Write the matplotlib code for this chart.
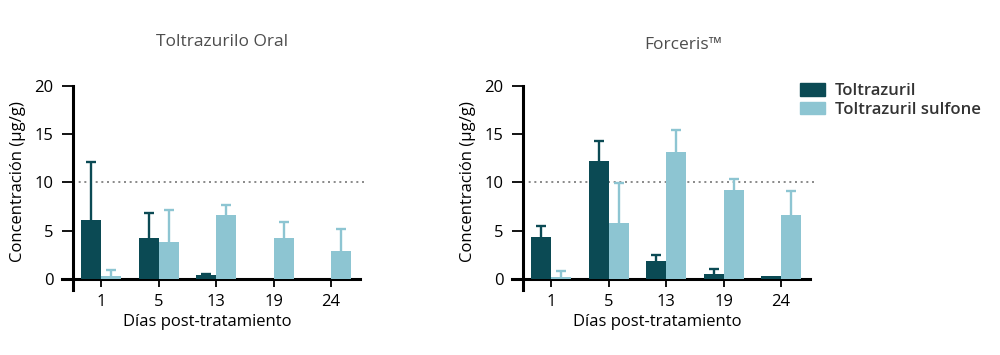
import numpy as np
import matplotlib
matplotlib.use("Agg")
import matplotlib.pyplot as plt
from matplotlib.patches import Patch

plt.rcParams['font.family'] = ['Open Sans', 'DejaVu Sans']

days = ["1", "5", "13", "19", "24"]
series_names = ["Toltrazuril", "Toltrazuril sulfone"]
panel_titles = ["Toltrazurilo Oral", "Forceris\u2122"]

# Toltrazurilo Oral
oral_tz = [6.1, 4.25, 0.38, 0.0, 0.0]
oral_tz_err = [6.07, 2.58, 0.14, 0.0, 0.0]
oral_tzs = [0.35, 3.83, 6.62, 4.24, 2.86]
oral_tzs_err = [0.55, 3.37, 1.07, 1.69, 2.28]

# Forceris
forc_tz = [4.3, 12.23, 1.82, 0.52, 0.34]
forc_tz_err = [1.2, 2.1, 0.65, 0.51, 0.0]
forc_tzs = [0.2, 5.77, 13.16, 9.24, 6.6]
forc_tzs_err = [0.6, 4.16, 2.27, 1.14, 2.47]

limit = 10

dark = '#0b4a54'
light = '#8dc5d2'

W, H = 1000, 355
fig = plt.figure(figsize=(W / 100, H / 100), dpi=100)

x = np.arange(len(days))
bw = 0.348
yaxis_x = -0.487


def upper_err(ax, xs, vals, errs, color):
    vals = np.asarray(vals)
    errs = np.asarray(errs)
    keep = errs > 0  # no whisker where there is no spread
    _, caps, _ = ax.errorbar(xs[keep], vals[keep], yerr=[np.zeros(keep.sum()), errs[keep]],
                             fmt='none', ecolor=color, elinewidth=1.7, capsize=3.6,
                             capthick=1.7, zorder=2.8)
    caps[0].set_visible(False)  # only the top cap


panels = [
    (62, oral_tz, oral_tz_err, oral_tzs, oral_tzs_err),
    (512, forc_tz, forc_tz_err, forc_tzs, forc_tzs_err),
]

for k, (left_px, a, ae, b, be) in enumerate(panels):
    ax = fig.add_axes([left_px / W, 65.4 / H, 306.5 / W, 203.6 / H])
    ax.set_xlim(-0.68, 4.65)
    ax.set_ylim(-1.1, 20)

    ax.plot([yaxis_x, 4.62], [limit, limit], ls=(0, (1.2, 2.2)), color='#777777', lw=1.2, zorder=1)

    ax.bar(x - bw / 2, a, bw, color=dark, zorder=3)
    ax.bar(x + bw / 2, b, bw, color=light, zorder=3)
    upper_err(ax, x - bw / 2, a, ae, dark)
    upper_err(ax, x + bw / 2, b, be, light)

    for s in ['top', 'right']:
        ax.spines[s].set_visible(False)
    ax.spines['left'].set_position(('data', yaxis_x))
    ax.spines['left'].set_bounds(-1.1, 20)
    ax.spines['bottom'].set_position(('data', 0))
    ax.spines['bottom'].set_bounds(-0.68, 4.5)
    ax.spines['left'].set_linewidth(2.2)
    ax.spines['bottom'].set_linewidth(2.2)

    ax.set_yticks([0, 5, 10, 15, 20])
    ax.set_xticks(x)
    ax.set_xticklabels(days)
    ax.tick_params(axis='y', length=8, width=1.3, pad=6, labelsize=12)
    ax.tick_params(axis='x', length=6, width=1.3, pad=5, labelsize=12)

    fig.text((left_px - 44) / W, 1 - 182 / H, "Concentración (µg/g)", rotation=90,
             ha='center', va='center', fontsize=12)
    fig.text((left_px + 145) / W, 1 - 322 / H, "Días post-tratamiento",
             ha='center', va='center', fontsize=12)

fig.text(222 / W, 1 - 42 / H, panel_titles[0], ha='center', va='center',
         fontsize=12.5, color='#4d4d4d', fontweight='medium')
fig.text(683 / W, 1 - 45 / H, panel_titles[1], ha='center', va='center',
         fontsize=12.5, color='#4d4d4d', fontweight='medium')

handles = [Patch(color=dark), Patch(color=light)]
fig.legend(handles, series_names, loc='upper left', bbox_to_anchor=(785 / W, 1 - 68 / H),
           frameon=False, handlelength=1.5, handleheight=0.8,
           handletextpad=0.6, labelspacing=0.15, labelcolor='#333333',
           prop={'family': ['Open Sans', 'DejaVu Sans'], 'weight': 'semibold', 'size': 12})

fig.savefig("out.png", dpi=100)
